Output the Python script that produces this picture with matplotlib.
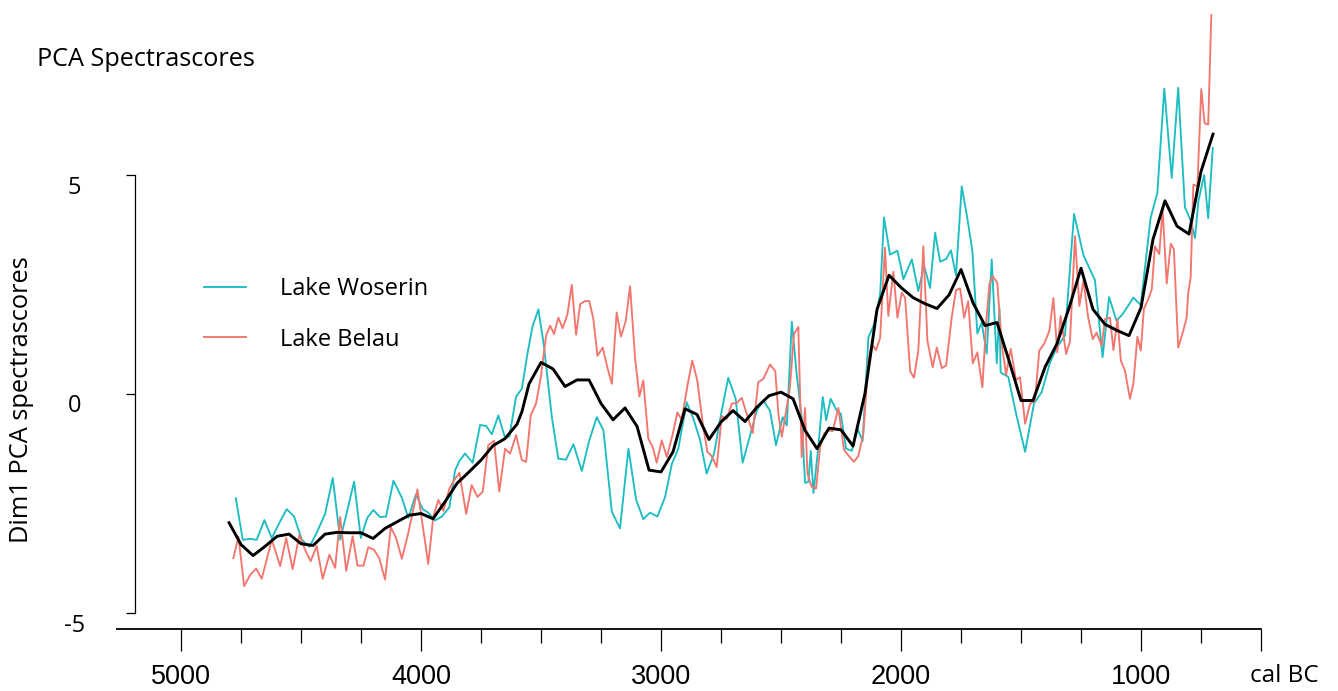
import matplotlib
matplotlib.use("Agg")
import matplotlib.pyplot as plt
import matplotlib.transforms as mtransforms

# Lake Woserin (teal)
woserin_year = [4772, 4743, 4712, 4685, 4653, 4622, 4590, 4560, 4529, 4497, 4465, 4435, 4400, 4368,
                4337, 4310, 4279, 4251, 4224, 4199, 4171, 4146, 4115, 4080, 4053, 4021, 3993, 3970,
                3942, 3914, 3882, 3858, 3840, 3817, 3785, 3754, 3729, 3705, 3678, 3650, 3632, 3604,
                3580, 3557, 3535, 3511, 3488, 3455, 3428, 3396, 3365, 3330, 3299, 3268, 3240, 3205,
                3171, 3136, 3104, 3074, 3046, 3015, 2983, 2955, 2928, 2893, 2865, 2837, 2810, 2779,
                2747, 2720, 2689, 2660, 2629, 2601, 2574, 2546, 2521, 2493, 2476, 2455, 2435, 2414,
                2400, 2386, 2376, 2365, 2345, 2326, 2312, 2293, 2268, 2251, 2229, 2205, 2182, 2160,
                2136, 2112, 2087, 2071, 2046, 2015, 1990, 1955, 1928, 1904, 1879, 1858, 1837, 1812,
                1792, 1771, 1747, 1724, 1703, 1682, 1664, 1643, 1622, 1601, 1590, 1585, 1553, 1521,
                1483, 1446, 1414, 1379, 1351, 1317, 1279, 1240, 1192, 1160, 1133, 1102, 1077, 1049,
                1032, 1001, 960, 932, 903, 872, 845, 817, 793, 775, 761, 737, 720, 701]
woserin_score = [-2.39, -3.34, -3.32, -3.34, -2.89, -3.30, -2.95, -2.64, -2.81, -3.34, -3.50, -3.18, -2.75, -1.93,
                 -3.34, -2.73, -2.01, -3.30, -2.84, -2.66, -2.82, -2.81, -1.99, -2.38, -2.84, -2.30, -2.64, -2.72,
                 -2.90, -2.81, -2.60, -1.75, -1.54, -1.37, -1.58, -0.72, -0.74, -0.93, -0.50, -1.01, -0.98, -0.07,
                 0.11, 0.90, 1.54, 1.92, 1.09, -0.54, -1.49, -1.51, -1.16, -1.77, -1.07, -0.54, -0.84, -2.70,
                 -3.08, -1.26, -2.42, -2.87, -2.72, -2.81, -2.36, -1.61, -1.26, -0.20, -0.58, -1.07, -1.83, -1.37,
                 -0.39, 0.36, -0.12, -1.58, -0.95, -0.39, -0.16, -0.39, -1.18, -0.54, -0.73, 1.64, 0.45, -0.54,
                 -2.04, -2.02, -1.31, -2.27, -1.24, -0.08, -0.61, -0.12, -0.39, -0.46, -1.26, -1.31, -0.80, -1.08,
                 1.28, 1.58, 2.27, 4.02, 3.17, 3.26, 2.61, 3.06, 2.34, 2.92, 2.41, 3.67, 3.01, 3.07,
                 3.27, 2.70, 4.73, 4.01, 3.27, 1.37, 1.62, 0.91, 3.06, 0.69, 1.96, 0.48, 0.38, -0.45,
                 -1.33, -0.23, 0.03, 0.71, 1.05, 1.32, 4.10, 3.16, 2.59, 0.83, 2.20, 1.66, 1.81, 2.04,
                 2.19, 2.02, 4.01, 4.58, 6.96, 4.92, 6.98, 4.25, 3.95, 3.55, 4.39, 4.99, 4.00, 5.61]

# Lake Belau (red)
belau_year = [4782, 4761, 4737, 4712, 4687, 4664, 4622, 4587, 4562, 4535, 4507, 4483, 4460, 4435,
              4410, 4382, 4358, 4337, 4312, 4285, 4265, 4240, 4220, 4196, 4174, 4150, 4126, 4104,
              4080, 4053, 4035, 4015, 3970, 3949, 3928, 3907, 3882, 3862, 3840, 3812, 3789, 3765,
              3743, 3720, 3696, 3674, 3650, 3629, 3604, 3580, 3562, 3543, 3521, 3501, 3479, 3462,
              3446, 3428, 3410, 3390, 3372, 3354, 3337, 3317, 3299, 3282, 3265, 3243, 3224, 3205,
              3185, 3167, 3147, 3129, 3108, 3090, 3074, 3053, 3035, 3018, 2997, 2976, 2951, 2932,
              2914, 2890, 2870, 2849, 2826, 2807, 2789, 2768, 2747, 2726, 2705, 2685, 2664, 2643,
              2618, 2595, 2574, 2546, 2524, 2511, 2497, 2483, 2463, 2446, 2428, 2414, 2400, 2390,
              2372, 2354, 2337, 2321, 2303, 2285, 2261, 2238, 2220, 2196, 2178, 2157, 2136, 2122,
              2104, 2087, 2067, 2053, 2032, 2015, 1997, 1983, 1962, 1946, 1928, 1907, 1890, 1868,
              1851, 1830, 1812, 1789, 1771, 1754, 1737, 1720, 1701, 1682, 1661, 1646, 1632, 1618,
              1599, 1580, 1562, 1543, 1521, 1504, 1483, 1462, 1442, 1424, 1404, 1382, 1365, 1349,
              1335, 1312, 1296, 1275, 1257, 1240, 1220, 1201, 1185, 1164, 1150, 1129, 1115, 1098,
              1084, 1067, 1046, 1032, 1015, 1001, 988, 970, 955, 942, 924, 910, 893, 876,
              863, 845, 826, 810, 803, 793, 782, 765, 749, 735, 720, 707]
belau_score = [-3.76, -3.27, -4.40, -4.14, -4.00, -4.23, -3.34, -3.94, -3.30, -4.01, -3.23, -3.57, -3.83, -3.48,
               -4.23, -3.68, -3.98, -2.82, -4.05, -3.26, -3.93, -3.93, -3.51, -3.57, -3.76, -4.25, -3.05, -3.30,
               -3.77, -3.18, -2.72, -2.19, -3.89, -2.81, -2.43, -2.68, -2.17, -1.98, -1.81, -2.75, -2.09, -2.36,
               -2.24, -1.18, -1.08, -2.24, -1.26, -1.37, -0.95, -1.52, -1.56, -0.50, -0.23, 0.37, 1.32, 1.55,
               1.36, 1.73, 1.49, 1.81, 2.48, 1.34, 2.04, 2.11, 2.11, 1.70, 0.86, 1.05, 0.60, 0.22,
               1.85, 1.30, 1.66, 2.45, 0.79, -0.07, 0.30, -1.03, -1.22, -1.58, -1.07, -1.45, -0.92, -0.43,
               -0.60, 0.18, 0.75, 0.30, -0.69, -1.33, -1.43, -1.68, -0.52, -0.58, -0.23, -0.22, -0.10, -0.46,
               -0.90, 0.26, 0.33, 0.66, 0.51, -0.46, -0.99, -0.54, 0.14, 1.36, 1.52, -1.45, -0.33, -1.83,
               -2.13, -2.17, -1.22, -0.92, -0.84, -0.86, -0.33, -1.28, -1.41, -1.56, -1.43, -0.92, 0.75, 1.13,
               0.99, 1.27, 3.33, 1.77, 2.78, 1.73, 2.30, 2.19, 0.51, 0.36, 0.98, 3.36, 1.20, 0.60,
               1.05, 0.58, 0.64, 1.73, 2.36, 2.40, 1.73, 2.11, 0.69, 0.94, 0.14, 1.55, 2.49, 2.68,
               2.53, 1.11, 0.43, 1.02, 0.31, 0.37, -0.69, -0.23, -0.16, 0.98, 1.13, 1.43, 2.18, 0.94,
               1.77, 0.90, 1.20, 3.59, 2.00, 2.58, 1.73, 1.24, 1.39, 1.09, 1.70, 1.73, 0.99, 1.70,
               0.75, 0.52, -0.12, 0.22, 1.30, 0.98, 1.93, 2.15, 2.38, 3.36, 3.18, 4.20, 2.51, 3.42,
               3.29, 1.05, 1.39, 1.73, 2.30, 2.66, 4.77, 4.73, 6.95, 6.17, 6.14, 8.64]

# smoothed mean (black)
mean_year = [4800, 4750, 4700, 4650, 4600, 4550, 4500, 4450, 4400, 4350, 4300, 4250, 4200, 4150,
             4100, 4050, 4000, 3950, 3900, 3850, 3800, 3750, 3700, 3650, 3600, 3580, 3550, 3500,
             3450, 3400, 3350, 3300, 3250, 3200, 3150, 3100, 3050, 3000, 2950, 2900, 2850, 2800,
             2750, 2700, 2650, 2600, 2550, 2500, 2450, 2400, 2350, 2300, 2250, 2200, 2150, 2100,
             2050, 2000, 1950, 1900, 1850, 1800, 1750, 1700, 1650, 1600, 1550, 1500, 1450, 1400,
             1350, 1300, 1250, 1200, 1150, 1100, 1050, 1000, 950, 900, 850, 800, 750, 700]
mean_score = [-2.95, -3.45, -3.70, -3.49, -3.26, -3.21, -3.43, -3.47, -3.21, -3.17, -3.18, -3.18, -3.31, -3.08,
              -2.93, -2.78, -2.74, -2.86, -2.47, -2.05, -1.79, -1.52, -1.19, -1.03, -0.70, -0.42, 0.22, 0.71,
              0.56, 0.16, 0.31, 0.31, -0.23, -0.60, -0.33, -0.75, -1.75, -1.79, -1.33, -0.35, -0.48, -1.05,
              -0.65, -0.39, -0.64, -0.31, -0.05, 0.03, -0.12, -0.84, -1.26, -0.79, -0.83, -1.20, 0.01, 1.92,
              2.70, 2.42, 2.19, 2.05, 1.94, 2.25, 2.83, 2.07, 1.55, 1.62, 0.75, -0.16, -0.16, 0.60,
              1.14, 1.95, 2.86, 1.92, 1.58, 1.44, 1.32, 1.96, 3.52, 4.40, 3.82, 3.64, 5.07, 5.92]

major_ticks = [5000, 4000, 3000, 2000, 1000, 500]
major_labels = ["5000", "4000", "3000", "2000", "1000", ""]
minor_ticks = [4750, 4500, 4250, 3750, 3500, 3250, 2750, 2500, 2250, 1750, 1500, 1250, 750]
y_ticks = [-5, 0, 5]

teal = "#1DBDC2"
salmon = "#F2766E"
txt_font = ["Open Sans", "DejaVu Sans"]

fig = plt.figure(figsize=(13.38, 6.91), dpi=100)
W, H = 1338, 691
# axes box: x from 117 px to 1261 px, y from 629 px (bottom) up to the top edge
ax = fig.add_axes([117 / W, (H - 629) / H, (1261 - 117) / W, 629 / H])

ax.plot(woserin_year, woserin_score, color=teal, lw=1.35, label="Lake Woserin", clip_on=False)
ax.plot(belau_year, belau_score, color=salmon, lw=1.35, label="Lake Belau", clip_on=False)
ax.plot(mean_year, mean_score, color="black", lw=2.1, clip_on=False)

ax.set_xlim(5267, 500)
ax.set_ylim((393.5 - 629) / 43.8, 393.5 / 43.8)

for s in ["top", "right"]:
    ax.spines[s].set_visible(False)
ax.spines["bottom"].set_linewidth(1.3)
ax.spines["left"].set_position(("data", 5192))
ax.spines["left"].set_bounds(-5, 5)
ax.spines["left"].set_linewidth(0.9)

ax.set_xticks(major_ticks)
ax.set_xticklabels(major_labels, fontfamily="Liberation Sans", fontsize=19.5)
ax.set_xticks(minor_ticks, minor=True)
ax.tick_params(axis="x", which="major", length=16, width=0.9, pad=9)
ax.tick_params(axis="x", which="minor", length=10, width=0.9)

ax.set_yticks(y_ticks)
ax.set_yticklabels([str(v) for v in y_ticks], fontfamily=txt_font, fontsize=17)
ax.tick_params(axis="y", length=6.5, width=0.9, pad=37)
shift = mtransforms.ScaledTranslation(0, -0.1, fig.dpi_scale_trans)
for lbl in ax.get_yticklabels():
    lbl.set_horizontalalignment("center")
    lbl.set_transform(lbl.get_transform() + shift)

fig.text(37 / W, 1 - 59 / H, "PCA Spectrascores", fontfamily=txt_font, fontsize=18.2,
         ha="left", va="center")
fig.text(22 / W, 1 - 400 / H, "Dim1 PCA spectrascores", fontfamily=txt_font, fontsize=18.3,
         rotation=90, ha="center", va="center")
fig.text(1250 / W, 1 - 676 / H, "cal BC", fontfamily=txt_font, fontsize=17.5,
         ha="left", va="center")

leg = ax.legend(loc="upper left", bbox_to_anchor=(183 / W, 1 - 256 / H), bbox_transform=fig.transFigure,
                frameon=False, handlelength=1.75, handletextpad=1.45, labelspacing=1.12,
                prop={"family": txt_font, "size": 17})

fig.savefig("out.png", dpi=100)
